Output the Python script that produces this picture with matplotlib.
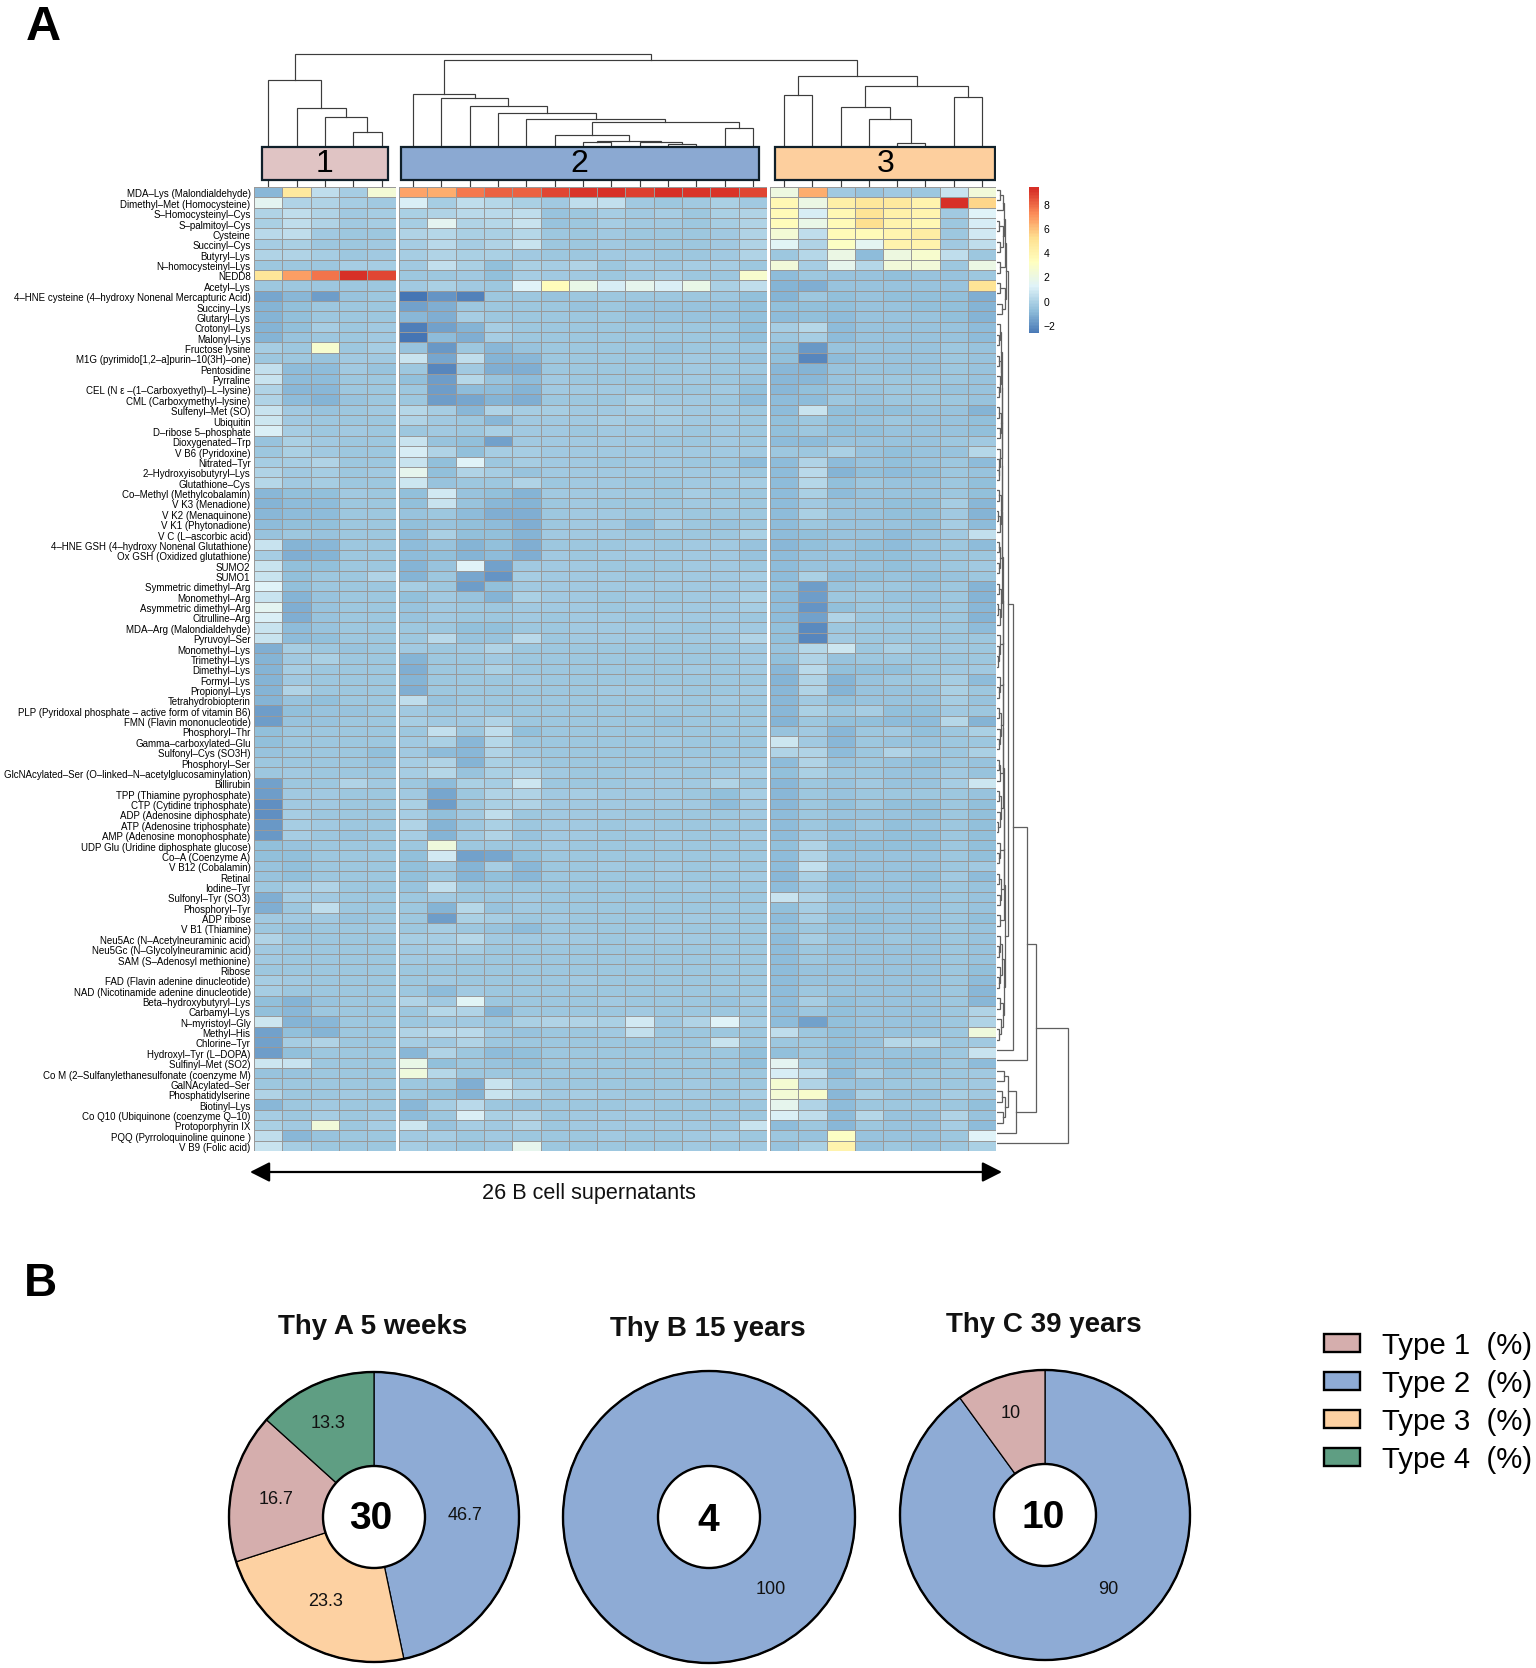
import numpy as np
import matplotlib
matplotlib.use('Agg')
import matplotlib.pyplot as plt
from matplotlib.colors import LinearSegmentedColormap, ListedColormap
from matplotlib.patches import Circle, Patch, Rectangle
from matplotlib.transforms import ScaledTranslation

plt.rcParams['font.family'] = ['Liberation Sans', 'DejaVu Sans']

W, H = 1536, 1668

row_labels = [
    'MDA–Lys (Malondialdehyde)', 'Dimethyl–Met (Homocysteine)', 'S–Homocysteinyl–Cys', 'S–palmitoyl–Cys',
    'Cysteine', 'Succinyl–Cys', 'Butyryl–Lys', 'N–homocysteinyl–Lys', 'NEDD8', 'Acetyl–Lys',
    '4–HNE cysteine (4–hydroxy Nonenal Mercapturic Acid)', 'Succiny–Lys', 'Glutaryl–Lys', 'Crotonyl–Lys',
    'Malonyl–Lys', 'Fructose lysine', 'M1G (pyrimido[1,2–a]purin–10(3H)–one)', 'Pentosidine', 'Pyrraline',
    'CEL (N ε –(1–Carboxyethyl)–L–lysine)', 'CML (Carboxymethyl–lysine)', 'Sulfenyl–Met (SO)', 'Ubiquitin',
    'D–ribose 5–phosphate', 'Dioxygenated–Trp', 'V B6 (Pyridoxine)', 'Nitrated–Tyr', '2–Hydroxyisobutyryl–Lys',
    'Glutathione–Cys', 'Co–Methyl (Methylcobalamin)', 'V K3 (Menadione)', 'V K2 (Menaquinone)',
    'V K1 (Phytonadione)', 'V C (L–ascorbic acid)', '4–HNE GSH (4–hydroxy Nonenal Glutathione)',
    'Ox GSH (Oxidized glutathione)', 'SUMO2', 'SUMO1', 'Symmetric dimethyl–Arg', 'Monomethyl–Arg',
    'Asymmetric dimethyl–Arg', 'Citrulline–Arg', 'MDA–Arg (Malondialdehyde)', 'Pyruvoyl–Ser', 'Monomethyl–Lys',
    'Trimethyl–Lys', 'Dimethyl–Lys', 'Formyl–Lys', 'Propionyl–Lys', 'Tetrahydrobiopterin',
    'PLP (Pyridoxal phosphate – active form of vitamin B6)', 'FMN (Flavin mononucleotide)', 'Phosphoryl–Thr',
    'Gamma–carboxylated–Glu', 'Sulfonyl–Cys (SO3H)', 'Phosphoryl–Ser',
    'GlcNAcylated–Ser (O–linked–N–acetylglucosaminylation)', 'Billirubin', 'TPP (Thiamine pyrophosphate)',
    'CTP (Cytidine triphosphate)', 'ADP (Adenosine diphosphate)', 'ATP (Adenosine triphosphate)',
    'AMP (Adenosine monophosphate)', 'UDP Glu (Uridine diphosphate glucose)', 'Co–A (Coenzyme A)',
    'V B12 (Cobalamin)', 'Retinal', 'Iodine–Tyr', 'Sulfonyl–Tyr (SO3)', 'Phosphoryl–Tyr', 'ADP ribose',
    'V B1 (Thiamine)', 'Neu5Ac (N–Acetylneuraminic acid)', 'Neu5Gc (N–Glycolylneuraminic acid)',
    'SAM (S–Adenosyl methionine)', 'Ribose', 'FAD (Flavin adenine dinucleotide)',
    'NAD (Nicotinamide adenine dinucleotide)', 'Beta–hydroxybutyryl–Lys', 'Carbamyl–Lys', 'N–myristoyl–Gly',
    'Methyl–His', 'Chlorine–Tyr', 'Hydroxyl–Tyr (L–DOPA)', 'Sulfinyl–Met (SO2)',
    'Co M (2–Sulfanylethanesulfonate (coenzyme M)', 'GalNAcylated–Ser', 'Phosphatidylserine', 'Biotinyl–Lys',
    'Co Q10 (Ubiquinone (coenzyme Q–10)', 'Protoporphyrin IX', 'PQQ (Pyrroloquinoline quinone )',
    'V B9 (Folic acid)',
]

# values, one list per row
group1_values = [
    [-0.7,4.9,0.6,0.0,2.7],[1.7,0.2,0.3,0.0,-0.1],[0.2,0.6,0.3,-0.1,0.0],[0.1,0.6,0.3,-0.1,0.0],
    [0.5,0.6,-0.1,-0.2,-0.2],[0.0,0.1,-0.3,-0.3,-0.1],[0.3,0.2,0.0,-0.2,-0.1],[-0.2,-0.2,-0.2,0.0,0.0],
    [5.1,7.0,8.0,9.5,8.9],[-0.2,-0.3,-0.3,-0.3,-0.2],[-1.2,-0.7,-1.4,-0.4,-0.2],[-0.9,-0.5,-0.3,-0.3,-0.2],
    [-0.9,-0.5,-0.3,-0.3,-0.2],[-0.9,-0.5,0.0,-0.3,-0.1],[-0.9,-0.4,-0.2,-0.2,-0.1],[0.0,-0.3,2.9,-0.2,0.0],
    [-0.2,-0.3,-0.4,-0.1,-0.1],[0.7,-0.6,-0.6,-0.1,-0.4],[0.8,-0.6,-0.6,-0.2,-0.2],[0.2,-0.7,-0.7,-0.3,-0.3],
    [0.2,-0.6,-0.8,-0.4,-0.3],[0.9,-0.1,-0.4,-0.2,-0.1],[1.0,-0.1,-0.2,-0.2,-0.2],[1.3,0.0,-0.2,-0.1,-0.2],
    [-0.4,0.1,-0.1,-0.3,-0.2],[-0.2,0.1,-0.1,-0.3,-0.2],[0.0,0.0,0.3,-0.3,-0.2],[0.2,-0.1,0.0,-0.2,-0.1],
    [0.4,-0.1,0.0,-0.3,-0.3],[-0.7,-0.5,-0.5,-0.1,-0.2],[-0.8,-0.6,-0.6,-0.2,-0.2],[-0.7,-0.6,-0.6,-0.2,-0.3],
    [-0.6,-0.5,-0.5,-0.2,-0.2],[-0.4,-0.3,-0.4,-0.3,-0.3],[0.8,-0.8,-0.7,-0.3,-0.2],[0.0,-1.0,-0.9,-0.3,-0.2],
    [0.8,-0.5,-0.5,-0.3,-0.2],[0.8,-0.5,-0.3,-0.2,0.3],[1.5,-0.5,-0.3,-0.3,-0.2],[0.9,-0.8,-0.4,-0.3,-0.2],
    [1.7,-1.0,-0.4,-0.3,-0.2],[1.3,-1.0,-0.4,-0.2,-0.2],[0.8,-0.6,-0.4,-0.2,-0.2],[0.9,-0.6,-0.5,-0.3,-0.2],
    [-1.0,0.0,-0.2,-0.4,-0.3],[-0.9,-0.1,0.1,-0.3,-0.3],[-0.9,0.0,-0.2,-0.2,-0.3],[-0.8,-0.1,-0.2,-0.3,-0.3],
    [-0.8,0.2,-0.2,-0.3,-0.2],[-0.9,-0.4,-0.5,-0.3,-0.2],[-1.5,-0.5,-0.4,-0.4,-0.3],[-1.4,-0.4,-0.4,-0.3,-0.3],
    [-0.5,-0.3,-0.3,-0.3,-0.2],[-0.5,-0.3,-0.3,-0.2,-0.2],[-0.4,-0.3,-0.3,-0.2,-0.5],[-0.3,-0.2,-0.2,-0.3,-0.4],
    [-0.2,-0.1,-0.2,-0.2,-0.2],[-1.3,-0.3,-0.3,0.2,-0.1],[-1.5,-0.1,-0.1,-0.2,-0.2],[-1.8,-0.1,-0.1,-0.2,-0.2],
    [-1.8,0.0,-0.2,-0.3,-0.3],[-1.6,0.0,-0.1,-0.3,-0.3],[-1.6,0.0,-0.2,-0.4,-0.3],[-0.5,-0.4,-0.2,-0.2,-0.2],
    [-0.5,-0.5,-0.3,-0.3,-0.2],[-0.4,-0.5,-0.3,-0.3,-0.2],[-0.4,-0.5,-0.3,-0.3,-0.2],[-0.3,0.0,0.2,-0.3,-0.2],
    [-1.0,0.0,-0.1,-0.3,-0.2],[-1.0,-0.2,0.6,-0.3,-0.2],[-0.1,-0.1,-0.1,-0.4,-0.3],[-0.3,-0.4,-0.3,-0.3,-0.1],
    [0.3,-0.2,-0.3,-0.3,-0.2],[-0.1,-0.3,-0.3,-0.3,-0.2],[-0.1,-0.2,-0.3,-0.3,-0.2],[-0.3,-0.3,-0.3,-0.3,-0.2],
    [0.0,-0.1,-0.3,-0.3,-0.3],[0.0,-0.2,-0.2,-0.3,-0.3],[-0.5,-0.8,-0.4,-0.3,-0.2],[-0.5,-0.7,-0.3,-0.3,-0.2],
    [1.0,-0.8,-0.7,-0.3,-0.2],[-1.3,-0.5,-0.8,-0.3,-0.2],[-1.3,0.0,0.3,-0.3,-0.3],[-1.4,-0.5,-0.3,-0.2,-0.3],
    [1.0,0.8,-0.2,-0.3,-0.3],[-0.4,-0.4,-0.2,-0.3,-0.2],[-0.3,-0.3,-0.2,-0.3,-0.2],[0.2,-0.2,-0.3,-0.1,-0.2],
    [-0.7,-0.3,-0.1,-0.2,-0.2],[0.0,-0.2,0.0,-0.3,-0.1],[0.1,-0.1,2.6,-0.2,0.0],[0.6,-0.7,-0.4,-0.3,-0.2],
    [0.9,0.0,-0.2,-0.2,-0.2],
]

group2_values = [
    [6.9,6.7,7.9,8.4,8.3,8.9,9.3,9.4,9.1,9.4,9.3,9.3,8.9],
    [1.3,0.0,0.6,0.4,0.1,-0.1,0.6,0.7,-0.1,-0.2,-0.1,0.1,-0.1],
    [0.1,0.3,0.5,0.5,0.6,-0.4,-0.3,0.0,-0.1,0.0,-0.2,0.1,0.3],
    [0.0,1.7,0.3,0.4,0.8,-0.4,-0.2,0.0,-0.1,-0.1,-0.2,0.0,0.3],
    [0.3,0.4,0.1,0.1,0.4,-0.3,-0.3,-0.1,-0.2,-0.2,-0.2,-0.1,0.3],
    [0.0,0.5,0.0,0.2,0.8,-0.3,-0.2,-0.1,-0.2,-0.3,-0.2,-0.1,0.2],
    [0.0,0.2,0.1,0.1,-0.1,-0.3,-0.2,-0.1,-0.1,-0.2,-0.2,-0.1,0.2],
    [-0.1,0.7,0.1,-0.5,0.1,0.0,0.2,-0.2,0.0,-0.1,0.0,0.0,-0.3],
    [-0.3,-0.2,-0.1,-0.5,0.0,-0.1,-0.1,-0.2,-0.1,0.0,-0.2,-0.2,2.9],
    [-0.1,0.1,-0.1,-0.2,1.5,3.6,2.0,1.2,1.8,1.3,2.0,0.1,0.6],
    [-2.8,-1.7,-2.2,-0.3,-0.3,-0.4,-0.3,-0.3,-0.3,-0.3,-0.3,-0.3,-0.5],
    [-1.3,-1.0,-0.2,-0.3,-0.3,-0.3,-0.4,-0.3,-0.4,-0.4,-0.4,-0.4,-0.5],
    [-0.7,-1.0,0.0,-0.2,-0.3,-0.3,-0.3,-0.3,-0.4,-0.4,-0.4,-0.4,-0.5],
    [-2.3,-1.3,-0.9,0.0,-0.2,-0.3,-0.3,-0.3,-0.3,-0.3,-0.3,-0.3,-0.5],
    [-2.6,-0.6,-1.0,0.0,-0.3,-0.3,-0.3,-0.3,-0.3,-0.2,-0.3,-0.3,-0.5],
    [-0.4,-1.6,-0.2,-0.7,-0.4,-0.3,-0.3,-0.3,-0.3,-0.4,-0.3,-0.3,-0.3],
    [0.9,-1.2,0.6,-0.9,-0.7,-0.3,-0.2,-0.3,-0.2,-0.2,-0.1,-0.3,-0.4],
    [-0.3,-2.1,-0.1,-1.0,-1.0,-0.2,-0.2,-0.2,-0.2,-0.2,-0.1,-0.2,-0.3],
    [-0.5,-1.4,0.4,-0.4,-0.6,-0.1,-0.2,-0.2,-0.2,-0.1,-0.1,-0.2,-0.4],
    [-0.3,-1.5,-0.6,-0.6,-0.9,-0.1,-0.1,-0.1,-0.2,-0.2,-0.2,-0.1,-0.5],
    [-0.3,-1.5,-1.2,-0.8,-1.0,-0.2,-0.2,-0.2,0.1,-0.1,-0.1,-0.2,-0.6],
    [0.4,0.0,-0.7,0.3,0.0,0.0,-0.1,-0.1,0.0,0.0,-0.1,-0.1,-0.3],
    [0.2,-0.1,-0.3,-0.7,-0.1,-0.1,-0.1,0.0,-0.1,0.0,-0.1,-0.1,-0.2],
    [-0.2,-0.1,-0.2,0.1,-0.1,-0.1,-0.2,-0.1,-0.1,-0.1,-0.2,-0.1,-0.3],
    [0.9,-0.4,-0.5,-1.3,-0.1,-0.1,-0.1,-0.1,-0.1,-0.2,-0.2,-0.1,-0.3],
    [1.2,0.2,-0.5,0.0,0.0,-0.1,-0.1,-0.1,-0.1,-0.1,-0.1,-0.1,-0.1],
    [0.8,-0.5,1.5,-0.2,0.0,-0.1,-0.1,-0.2,-0.1,-0.1,-0.2,-0.2,-0.6],
    [1.8,-0.5,0.3,0.0,-0.4,-0.1,-0.1,-0.1,-0.1,-0.1,-0.1,-0.1,-0.3],
    [1.0,-0.4,-0.3,-0.2,0.2,-0.2,-0.1,-0.1,-0.2,-0.2,-0.1,-0.1,0.0],
    [-0.5,1.1,-0.4,-0.5,-0.8,-0.1,-0.1,-0.1,-0.1,-0.3,0.0,-0.2,-0.2],
    [-0.5,0.9,-0.4,-0.7,-0.9,-0.2,-0.1,-0.2,-0.2,-0.2,-0.1,-0.1,-0.2],
    [-0.4,-0.3,-0.6,-1.0,-1.0,-0.2,-0.1,-0.1,-0.3,-0.1,-0.2,-0.2,-0.2],
    [-0.5,-0.4,-0.5,-0.6,-1.0,-0.2,-0.1,-0.1,-0.6,0.0,-0.3,-0.4,-0.3],
    [-0.6,0.1,-0.5,-0.5,-0.8,-0.1,-0.1,-0.1,-0.2,-0.2,-0.2,-0.3,0.1],
    [-0.6,-0.4,-0.8,-0.5,-1.0,-0.2,-0.2,-0.2,-0.1,-0.3,-0.1,-0.1,-0.4],
    [-0.6,-0.5,-0.8,-0.6,-1.0,-0.1,-0.2,-0.1,-0.1,-0.1,-0.1,-0.1,-0.4],
    [-0.8,-0.4,1.5,-1.3,-0.1,-0.1,-0.1,-0.2,-0.2,-0.2,-0.1,-0.1,-0.3],
    [-0.8,-0.3,-1.2,-1.7,0.0,-0.1,-0.1,-0.1,-0.2,-0.1,-0.1,-0.1,0.0],
    [0.0,-0.3,-1.4,-0.5,-0.1,-0.1,-0.1,-0.1,-0.1,-0.1,-0.1,-0.1,-0.1],
    [-0.5,-0.1,-0.4,-0.9,0.1,-0.1,-0.1,-0.2,-0.1,-0.2,-0.1,-0.1,0.1],
    [-0.4,-0.1,-0.3,-0.2,-0.1,-0.1,-0.1,-0.2,-0.1,-0.1,-0.1,-0.1,0.0],
    [-0.4,-0.1,-0.3,-0.2,-0.1,-0.2,-0.1,-0.1,-0.2,-0.1,-0.1,-0.1,-0.2],
    [-0.3,-0.2,-0.5,-0.5,-0.2,-0.2,-0.1,-0.1,-0.1,-0.1,-0.2,-0.1,-0.1],
    [-0.3,0.5,-0.4,-0.4,0.5,-0.2,-0.1,-0.1,-0.1,-0.2,-0.1,-0.1,0.2],
    [-0.1,-0.2,-0.1,0.2,-0.2,-0.2,-0.2,-0.2,-0.2,-0.2,-0.2,-0.2,-0.1],
    [-0.9,-0.2,-0.2,-0.1,-0.2,-0.2,-0.2,-0.2,-0.2,-0.2,-0.2,-0.2,-0.1],
    [-1.0,-0.2,-0.2,0.1,-0.2,-0.2,-0.2,-0.2,-0.2,-0.2,-0.1,-0.2,-0.1],
    [-0.9,-0.3,-0.2,-0.3,-0.1,-0.2,-0.2,-0.2,-0.2,-0.2,-0.2,-0.2,-0.2],
    [-1.0,-0.3,-0.3,-0.2,-0.2,-0.2,-0.2,-0.1,-0.1,-0.1,-0.3,-0.2,-0.1],
    [0.6,-0.4,-0.3,-0.3,-0.2,-0.3,-0.2,-0.2,-0.2,-0.1,-0.2,-0.1,-0.2],
    [-0.1,-0.2,-0.1,-0.2,-0.2,-0.3,-0.3,-0.2,-0.3,-0.3,-0.3,-0.2,-0.3],
    [0.0,-0.1,-0.1,0.2,-0.2,-0.2,-0.3,-0.3,-0.2,-0.4,-0.3,-0.2,-0.3],
    [-0.2,0.7,-0.3,0.6,-0.5,-0.2,-0.2,-0.2,-0.2,-0.2,-0.2,-0.2,-0.2],
    [-0.1,0.1,-0.7,0.4,-0.2,-0.2,-0.3,-0.3,-0.2,-0.1,-0.3,-0.2,-0.2],
    [-0.1,-0.6,-0.7,0.2,-0.1,-0.3,-0.2,-0.2,-0.2,-0.3,-0.2,-0.2,-0.2],
    [0.0,0.2,-0.9,0.1,0.0,-0.2,-0.2,-0.2,-0.2,-0.3,-0.1,-0.2,-0.1],
    [0.0,0.4,-0.4,0.1,0.2,-0.1,-0.2,-0.2,-0.1,-0.1,-0.2,-0.1,0.0],
    [-0.2,-0.6,0.1,0.0,1.0,-0.2,-0.2,-0.2,-0.1,-0.1,-0.1,0.3,-0.2],
    [-0.1,-1.2,-0.3,0.2,0.2,-0.1,0.0,-0.1,-0.1,-0.1,-0.3,-0.5,0.0],
    [0.1,-1.5,-0.3,0.1,0.3,-0.1,-0.1,-0.1,-0.1,-0.1,-0.1,-0.6,-0.1],
    [0.0,-0.5,-0.1,0.6,-0.3,-0.1,-0.1,-0.1,-0.2,-0.2,-0.2,-0.2,-0.1],
    [0.2,-0.8,-0.3,0.1,-0.3,-0.1,-0.1,-0.2,-0.1,-0.2,-0.2,-0.2,-0.2],
    [0.0,-0.8,-0.1,0.3,-0.4,-0.1,-0.1,-0.2,-0.2,-0.1,-0.2,-0.2,-0.1],
    [-0.3,2.4,-0.3,-0.3,-0.2,-0.1,-0.2,-0.2,-0.2,-0.2,-0.2,-0.2,-0.2],
    [-0.5,1.1,-1.3,-1.2,-0.5,-0.2,-0.2,-0.2,-0.2,-0.2,-0.2,-0.2,-0.2],
    [-0.5,-0.1,-0.8,0.0,-0.7,-0.2,-0.2,-0.1,-0.2,-0.1,-0.2,-0.1,-0.2],
    [-0.5,-0.2,-0.8,-0.5,-0.7,-0.3,-0.3,-0.2,-0.2,-0.1,-0.2,-0.2,-0.1],
    [-0.4,0.7,-0.3,-0.3,-0.3,-0.2,-0.2,-0.2,-0.2,-0.2,-0.1,-0.2,-0.3],
    [-0.3,-0.1,-0.3,-0.3,-0.1,-0.3,-0.3,-0.3,-0.3,-0.3,-0.2,-0.3,-0.3],
    [-0.2,-0.8,0.4,-0.4,-0.1,-0.2,-0.2,-0.2,-0.2,-0.2,-0.2,-0.2,-0.2],
    [-0.2,-1.5,0.1,0.0,-0.2,-0.1,-0.2,-0.2,-0.2,-0.2,-0.1,-0.2,-0.2],
    [-0.2,0.0,-0.2,-0.4,-0.6,-0.2,-0.2,-0.2,-0.2,-0.1,-0.2,-0.2,-0.2],
    [0.0,0.0,0.4,-0.1,-0.1,-0.1,-0.1,-0.2,-0.1,-0.1,-0.1,-0.2,-0.2],
    [-0.1,0.0,0.0,-0.2,-0.2,-0.2,-0.2,-0.2,-0.2,-0.2,-0.2,-0.2,-0.3],
    [-0.1,-0.1,-0.2,-0.2,-0.2,-0.2,-0.2,-0.2,-0.2,-0.2,-0.2,-0.2,-0.2],
    [-0.3,-0.2,-0.3,-0.3,-0.3,-0.2,-0.3,-0.2,-0.3,-0.3,-0.3,-0.2,-0.2],
    [-0.2,-0.1,-0.3,-0.3,-0.2,-0.2,-0.1,-0.2,-0.3,-0.2,-0.2,-0.3,-0.3],
    [-0.3,-0.6,-0.1,-0.2,-0.2,-0.2,-0.2,-0.2,-0.2,-0.2,-0.2,-0.2,-0.3],
    [0.3,-0.1,1.6,-0.3,-0.2,-0.2,-0.2,-0.1,-0.2,-0.3,-0.3,-0.4,-0.1],
    [-0.3,0.4,0.2,-0.9,-0.2,-0.2,-0.2,-0.2,-0.1,-0.2,-0.3,-0.3,-0.2],
    [-0.3,-0.1,-0.1,-0.3,0.1,0.2,0.3,0.1,1.1,-0.1,0.2,1.4,0.0],
    [0.3,0.5,0.5,-0.1,-0.4,-0.2,-0.2,-0.1,0.7,-0.2,-0.2,-0.2,-0.3],
    [0.0,-0.1,0.3,-0.3,-0.3,-0.2,-0.2,-0.2,-0.3,-0.2,-0.2,0.8,-0.2],
    [-0.7,0.2,-0.2,-0.6,-0.5,-0.2,-0.2,-0.2,-0.2,-0.2,-0.3,-0.3,-0.5],
    [2.0,-0.5,-0.3,-0.4,-0.5,-0.2,-0.3,-0.2,-0.2,-0.2,-0.3,-0.3,-0.5],
    [2.4,0.4,-0.2,-0.3,-0.3,-0.2,-0.2,-0.2,-0.2,-0.3,-0.3,-0.2,-0.3],
    [-0.2,-0.3,-1.0,0.9,0.0,-0.2,-0.2,-0.2,-0.2,-0.2,-0.1,-0.2,-0.2],
    [-0.2,-0.5,-0.8,0.8,0.4,-0.1,0.0,-0.1,-0.2,-0.1,-0.1,-0.2,0.0],
    [-0.7,0.0,0.5,-0.2,-0.4,-0.3,-0.2,-0.2,-0.1,-0.2,-0.2,-0.2,-0.3],
    [-0.6,-0.2,1.3,0.1,0.2,-0.2,-0.1,-0.1,-0.1,-0.2,-0.2,-0.1,-0.2],
    [1.0,-0.4,0.0,-0.1,0.2,-0.2,-0.1,-0.1,-0.1,-0.1,-0.1,-0.2,0.9],
    [-0.1,0.0,-0.3,-0.1,-0.2,-0.2,-0.2,-0.1,-0.2,-0.2,-0.1,0.0,-0.2],
    [0.0,-0.1,-0.2,-0.1,1.8,-0.3,-0.2,-0.2,-0.2,-0.2,-0.1,-0.2,-0.1],
]

group3_values = [
    [2.3,6.6,-0.1,-0.4,-0.1,-0.2,0.8,2.6],[3.9,2.2,4.5,5.0,4.8,4.2,9.4,5.7],[3.8,1.2,3.9,5.2,4.3,4.1,-0.1,1.5],
    [3.6,2.0,3.8,5.4,4.2,3.9,-0.2,1.2],[2.7,0.6,3.8,3.7,4.1,4.6,-0.2,1.1],[1.6,0.3,3.3,1.7,4.2,4.2,-0.1,0.6],
    [-0.3,0.4,2.2,-0.6,2.3,2.9,0.6,-0.3],[2.5,0.0,1.8,0.4,2.5,2.6,-0.3,2.2],[-0.6,-0.3,-0.4,-0.4,-0.5,-0.4,-0.4,-0.3],
    [-0.8,-1.0,-0.4,-0.4,-0.4,-0.4,-0.4,5.2],[-0.8,-0.2,-0.5,-0.4,-0.5,-0.5,-0.5,-1.0],[-0.5,-0.5,-0.5,-0.4,-0.4,-0.5,-0.5,-0.8],
    [-0.6,-0.5,-0.6,-0.4,-0.4,-0.4,-0.5,-0.8],[0.0,0.4,-0.6,-0.4,-0.4,-0.4,-0.4,-0.6],[-0.3,0.0,-0.6,-0.4,-0.4,-0.4,-0.4,-0.6],
    [-0.5,-1.6,-0.4,-0.4,-0.4,-0.4,-0.3,-0.4],[-0.5,-2.1,-0.6,-0.4,-0.4,-0.4,-0.3,-0.4],[-0.7,-0.8,-0.4,-0.4,-0.4,-0.4,-0.3,-0.4],
    [-0.7,-0.7,-0.4,-0.3,-0.3,-0.3,-0.3,-0.4],[-0.7,-0.5,-0.4,-0.4,-0.3,-0.3,-0.4,-0.4],[-0.6,-0.6,-0.3,-0.4,-0.3,-0.3,-0.3,-0.4],
    [-0.6,0.9,-0.5,-0.5,-0.5,-0.4,-0.4,-0.9],[-0.5,-0.3,-0.5,-0.4,-0.2,-0.4,-0.4,-0.5],[-0.5,-0.3,-0.5,-0.5,-0.4,-0.4,-0.4,-0.5],
    [-0.6,-0.6,-0.4,-0.4,-0.4,-0.4,-0.2,-0.1],[-0.3,-0.2,0.1,-0.4,-0.5,-0.4,-0.4,0.4],[-0.6,0.3,-0.6,-0.4,-0.5,-0.4,-0.3,-0.6],
    [-0.6,0.5,-0.9,-0.5,-0.6,-0.5,-0.3,-0.4],[-0.6,0.4,-0.5,-0.3,-0.4,-0.4,-0.3,-0.5],[-0.6,0.1,-0.6,-0.4,-0.4,-0.4,-0.3,-0.5],
    [-0.6,-0.1,-0.4,-0.4,-0.5,-0.5,0.0,-0.7],[-0.6,0.1,-0.4,-0.4,-0.5,-0.5,-0.1,-0.8],[-0.6,-0.2,-0.4,-0.4,-0.4,-0.5,0.0,-0.6],
    [-0.6,-0.5,-0.4,-0.4,-0.6,-0.4,-0.1,0.7],[-0.7,-0.5,-0.4,-0.5,-0.6,-0.4,-0.3,-0.6],[-0.6,-0.4,-0.4,-0.5,-0.5,-0.4,-0.3,-0.3],
    [-0.6,-0.4,-0.4,-0.4,-0.5,-0.4,-0.3,-0.1],[-0.6,0.1,-0.6,-0.5,-0.4,-0.5,-0.4,-0.3],[-0.5,-1.4,-0.4,-0.3,-0.3,-0.4,-0.3,-0.9],
    [-0.6,-1.4,-0.3,-0.3,-0.4,-0.4,-0.2,-0.8],[-0.6,-1.7,-0.5,-0.3,-0.3,-0.4,-0.3,-0.7],[-0.6,-1.3,0.3,-0.3,-0.3,-0.3,-0.3,-0.8],
    [-0.5,-1.9,-0.2,-0.3,-0.3,-0.2,-0.2,-0.6],[-0.5,-2.0,-0.1,-0.3,-0.3,-0.3,-0.2,-0.3],[-0.4,0.4,1.0,-0.2,0.1,-0.2,-0.1,-0.2],
    [-0.5,0.3,-0.4,-0.2,-0.3,-0.3,-0.3,-0.2],[-0.7,0.5,-0.5,-0.5,-0.5,-0.2,-0.1,-0.1],[-0.8,0.3,-0.8,-0.4,-0.3,-0.3,0.0,-0.6],
    [-0.7,0.3,-0.9,-0.4,-0.4,-0.4,0.1,-0.3],[-0.7,-0.1,-0.5,-0.4,-0.4,-0.4,0.0,-0.4],[-0.7,0.1,-0.2,0.0,-0.5,-0.5,-0.1,-0.3],
    [-0.8,-0.2,-0.5,-0.5,-0.6,-0.6,0.4,-0.9],[-0.4,-0.1,-0.7,-0.3,-0.1,-0.5,-0.2,0.1],[1.0,-0.1,-0.7,-0.3,-0.4,-0.4,-0.2,-0.2],
    [0.2,0.2,-0.6,-0.3,0.2,-0.1,-0.2,0.1],[-0.6,0.2,-0.4,-0.3,-0.4,-0.5,-0.3,-0.4],[-0.5,0.1,-0.3,-0.3,-0.4,-0.4,-0.1,-0.4],
    [-0.7,-0.3,-0.4,-0.1,-0.4,-0.4,0.0,1.0],[-0.7,-0.2,-0.4,-0.2,-0.3,-0.3,-0.2,-0.4],[-0.7,-0.2,-0.5,-0.3,-0.5,-0.5,-0.3,-0.5],
    [-0.6,-0.2,-0.4,-0.4,-0.4,-0.5,-0.3,-0.5],[-0.6,-0.2,-0.5,-0.3,-0.5,-0.4,-0.3,-0.5],[-0.6,-0.1,-0.4,-0.4,-0.5,-0.5,-0.2,-0.5],
    [-0.5,0.3,-0.5,-0.5,-0.5,-0.5,-0.3,-0.5],[-0.6,0.3,-0.4,-0.4,-0.4,-0.4,-0.3,-0.5],[-0.6,0.7,-0.4,-0.4,-0.4,-0.4,-0.3,-0.1],
    [-0.7,0.1,-0.6,-0.4,-0.4,-0.5,-0.1,-0.6],[-0.6,-0.1,-0.5,-0.4,-0.4,-0.4,-0.3,-0.4],[0.9,0.3,-0.4,-0.4,-0.4,-0.4,-0.3,-0.4],
    [-0.5,0.0,-0.4,-0.4,-0.4,-0.4,-0.2,-0.4],[-0.6,0.0,-0.5,-0.5,-0.4,-0.4,-0.3,-0.5],[-0.5,-0.2,-0.4,-0.4,-0.4,-0.4,-0.2,-0.4],
    [-0.6,0.0,-0.4,-0.4,-0.3,-0.4,-0.3,-0.4],[-0.6,-0.2,-0.4,-0.4,-0.4,-0.4,-0.3,-0.4],[-0.6,-0.2,-0.4,-0.4,-0.4,-0.4,-0.3,-0.4],
    [-0.6,-0.4,-0.4,-0.4,-0.4,-0.4,-0.2,-0.5],[-0.6,-0.4,-0.4,-0.4,-0.4,-0.4,-0.2,-0.6],[-0.6,-0.2,-0.4,-0.4,-0.4,-0.4,-0.3,-0.7],
    [-0.6,0.0,-0.5,-0.4,-0.4,-0.4,-0.3,-0.7],[-0.6,-0.3,-0.5,-0.4,-0.4,-0.4,-0.3,0.2],[-0.6,-1.3,-0.5,-0.4,-0.4,-0.4,-0.3,0.2],
    [0.6,-0.2,-0.5,-0.4,-0.4,-0.4,-0.3,2.4],[-0.3,-0.2,-0.5,-0.4,0.4,0.4,-0.3,-0.1],[-0.5,-0.2,-0.6,-0.4,-0.4,-0.4,-0.3,0.9],
    [1.7,0.0,-0.5,-0.4,-0.5,-0.5,-0.3,-0.6],[1.2,0.6,-0.6,0.0,-0.4,-0.3,-0.3,-0.1],[2.8,0.3,-0.4,-0.4,-0.3,-0.3,-0.2,-0.1],
    [2.7,3.0,-0.7,0.1,-0.4,-0.4,0.0,-0.1],[1.8,0.2,-0.6,-0.3,-0.3,-0.3,-0.2,-0.5],[1.3,0.6,-0.6,0.4,-0.4,-0.4,0.2,-0.4],
    [-0.6,-0.3,-0.7,-0.3,-0.4,-0.4,0.0,-0.6],[-0.3,-0.4,3.3,-0.4,-0.4,-0.4,-0.2,1.4],[-0.4,0.1,4.2,-0.4,-0.3,-0.4,-0.3,0.1],
]

# dendrograms as nested (height, left, right), leaves are column / row numbers
col_tree_1 = (107, 0, (79, 1, (70, 2, (55, 3, 4))))
col_tree_2 = (92.7, 5, (88.7, 6, (81, 7, (74.3, 8, (67.7, 9, (64.7,
    (52.3, 10, (46.3, (44.7, 11, 12), (44.7, 13, (42.7, 14, 15)))), (59.3, 16, 17)))))))
col_tree_3 = (111, (92, 18, 19), (100.7, (80.3, 20, (67.7, 21, (44.3, 22, 23))), (89.7, 24, 25)))
col_tree = (132.7, col_tree_1, (127, col_tree_2, col_tree_3))

row_top = (9.7, (8.5, (7.5, (6, (3, 0, 1), 2), (6.5, (2.5, 3, 4), (3, 5, 6))), (3.5, 7, 8)),
           (8, (3, 9, 10), (5.5, 11, 12)))
row_blocks = [
    (3.5, 13, (2.5, 14, 15)), (4, (2, 16, 17), (3, 18, (2, 19, 20))), (4, (2.5, 21, 22), (3, 23, 24)),
    (3.5, 25, (2.5, 26, (2, 27, 28))), (4, (2, 29, 30), (3, (1.5, 31, 32), 33)), (3.5, (2, 34, 35), (2.5, 36, 37)),
    (4, (2, 38, 39), (3, (1.5, 40, 41), 42)), (3, 43, (2, 44, (1.5, 45, 46))), (3.5, 47, (2.5, 48, 49)),
    (4, (2, 50, 51), (3, 52, (2, 53, 54))), (3, (2, 55, 56), 57), (4, (2, 58, 59), (3, 60, (1.5, 61, 62))),
    (3, 63, (2, 64, 65)), (4, (2.5, 66, 67), (3, 68, 69)), (3.5, 70, 71),
]
row_block_heights = [4.5, 5, 5.2, 5.4, 5.6, 5.8, 6, 6.2, 6.4, 6.6, 6.8, 7, 7.2, 7.6]
row_end = (7.5, (5.5, (3, 72, (2, 73, 74)), (3.5, 75, (2.5, 76, 77))),
           (6, (3, 78, 79), (4, 80, (2.5, 81, 82))))
row_tail = (19, (11.3, (7.3, 85, 86), (8, (5, 87, 88), (6.5, 89, 90))), 91)

heat_colors = ['#4575B4', '#91BFDB', '#E0F3F8', '#FFFFBF', '#FEE090', '#FC8D59', '#D73027']
box_labels = ['1', '2', '3']
box_colors = ['#E0C4C4', '#8BA9D2', '#FDCF9E']

pie_titles = ['Thy A 5 weeks', 'Thy B 15 years', 'Thy C 39 years']
pie_totals = ['30', '4', '10']
type_names = ['Type 1  (%)', 'Type 2  (%)', 'Type 3  (%)', 'Type 4  (%)']
type_colors = ['#D5AEAD', '#8EABD5', '#FDD1A2', '#5F9E83']
# clockwise from 12 o'clock
thy_a_types = [1, 2, 0, 3]
thy_a_values = [46.7, 23.3, 16.7, 13.3]
thy_b_types = [1]
thy_b_values = [100]
thy_c_types = [1, 0]
thy_c_values = [90, 10]


def px_axes(left, top, right, bottom, **kw):
    return fig.add_axes([left / W, 1 - bottom / H, (right - left) / W, (bottom - top) / H], **kw)


def draw_tree(ax, node, pos, along_x, color, lw):
    # returns position along the leaves and height of the node
    if not isinstance(node, tuple):
        return pos(node), 0
    h, a, b = node
    pa, ha = draw_tree(ax, a, pos, along_x, color, lw)
    pb, hb = draw_tree(ax, b, pos, along_x, color, lw)
    xs = [pa, pa, pb, pb]
    ys = [ha, h, h, hb]
    if along_x:
        ax.plot(xs, ys, color=color, lw=lw, solid_joinstyle='miter')
    else:
        ax.plot(ys, xs, color=color, lw=lw, solid_joinstyle='miter')
    return (pa + pb) / 2, h


fig = plt.figure(figsize=(W / 100, H / 100), dpi=100)

# panel A heatmap
ramp = LinearSegmentedColormap.from_list('ramp', heat_colors)
cmap = ListedColormap(ramp(np.linspace(0, 1, 100)))
heat_top, heat_bottom = 187, 1151
panels = [(254, 395.7, group1_values), (399, 767, group2_values), (770, 996, group3_values)]
col_centers = []
mesh = None
for k, (x0, x1, vals) in enumerate(panels):
    vals = np.array(vals)
    ax = px_axes(x0, heat_top, x1, heat_bottom)
    mesh = ax.pcolormesh(vals, cmap=cmap, vmin=-2.6, vmax=9.5, edgecolors='#999999', linewidth=0.7)
    ax.set_ylim(vals.shape[0], 0)
    ax.set_xticks([])
    for s in ax.spines.values():
        s.set_visible(False)
    if k == 0:
        ax.set_yticks(np.arange(len(row_labels)) + 0.5, row_labels, fontsize=7.0)
        ax.tick_params(axis='y', length=0, pad=2.5)
        nudge = ScaledTranslation(0, -1.3 / 100, fig.dpi_scale_trans)
        for lab in ax.get_yticklabels():
            lab.set_transform(lab.get_transform() + nudge)
    else:
        ax.set_yticks([])
    step = (x1 - x0) / vals.shape[1]
    col_centers += [x0 + step * (i + 0.5) for i in range(vals.shape[1])]

# colour key
cax = px_axes(1029, 187, 1039, 333)
cb = fig.colorbar(mesh, cax=cax, ticks=[-2, 0, 2, 4, 6, 8])
cb.outline.set_visible(False)
cb.solids.set_edgecolor('face')
cax.tick_params(length=0, labelsize=7.5, pad=3.5)

# column dendrogram and the cluster boxes on top of it
ax_col = px_axes(254, 50, 996, 187)
ax_col.set_xlim(254, 996)
ax_col.set_ylim(0, 137)
ax_col.axis('off')
draw_tree(ax_col, col_tree, lambda c: col_centers[c], True, '#3c3c3c', 0.85)
box_spans = [(262, 388), (401, 758.6), (775.4, 995)]
for (b0, b1), c, t in zip(box_spans, box_colors, box_labels):
    ax_col.add_patch(Rectangle((b0, 7.5), b1 - b0, 32.5, fc=c, ec='#10202a', lw=1.6, zorder=3))
    ax_col.text((b0 + b1) / 2, 22.5, t, ha='center', va='center', fontsize=23, zorder=4)

# row dendrogram, drawn a little higher than the rows as in the figure
n_rows = len(row_labels)
ax_row = px_axes(996.5, heat_top - 2.5, 1070, heat_bottom - 2.5)
ax_row.set_xlim(0, 73.5)
ax_row.set_ylim(n_rows, 0)
ax_row.axis('off')
chain = row_blocks[0]
for node, h in zip(row_blocks[1:], row_block_heights):
    chain = (h, chain, node)
row_rest = (8.8, chain, row_end)
row_tree = (71, (39.7, (30, (16.7, (11, row_top, row_rest), 83), 84), row_tail), 92)
draw_tree(ax_row, row_tree, lambda r: r + 0.5, False, '#5f5f5f', 0.9)

# full page layer for the letters, arrow and caption
page = px_axes(0, 0, W, H)
page.set_xlim(0, W)
page.set_ylim(H, 0)
page.axis('off')
page.patch.set_alpha(0)
page.set_zorder(5)
page.text(26, 40, 'A', fontsize=35, fontweight='bold', va='baseline')
page.text(24, 1296, 'B', fontsize=33, fontweight='bold', va='baseline')
page.annotate('', xy=(250, 1172), xytext=(1002, 1172),
              arrowprops=dict(arrowstyle='<|-|>,head_length=0.75,head_width=0.38', color='black', lw=1.6,
                              shrinkA=0, shrinkB=0, mutation_scale=16))
page.text(589, 1194, '26 B cell supernatants', fontsize=15.6, ha='center', va='center', color='#111111')

# panel B
pie_specs = [
    (374, 1517, 145, thy_a_types, thy_a_values, [(465, 1516), (326, 1602), (276, 1500), (328, 1423)], (371, 1519), 1327),
    (709, 1517, 146, thy_b_types, thy_b_values, [(771, 1590)], (708, 1521), 1329),
    (1045, 1515, 145, thy_c_types, thy_c_values, [(1108, 1590), (1011, 1414)], (1043, 1518), 1325),
]
hole_r = 51
for spec, title, total in zip(pie_specs, pie_titles, pie_totals):
    cx, cy, r, types, values, label_xy, total_xy, title_y = spec
    ax = px_axes(cx - r, cy - r, cx + r, cy + r)
    ax.pie(values, colors=[type_colors[t] for t in types], startangle=90, counterclock=False, radius=1,
           wedgeprops=dict(width=1 - hole_r / r, edgecolor='black', linewidth=0.9))
    ax.set_xlim(-1, 1)
    ax.set_ylim(-1, 1)
    ax.add_patch(Circle((0, 0), 1, fc='none', ec='black', lw=1.7, clip_on=False))
    ax.add_patch(Circle((0, 0), hole_r / r, fc='white', ec='black', lw=1.7, clip_on=False))
    for v, (lx, ly) in zip(values, label_xy):
        page.text(lx, ly, str(v), fontsize=13, ha='center', va='center', color='#111111', zorder=5)
    page.text(total_xy[0], total_xy[1], total, fontsize=28, fontweight='bold', ha='center', va='center')
    page.text(cx - 1, title_y, title, fontsize=20, fontweight='bold', ha='center', va='center', color='#111111')

handles = [Patch(fc=c, ec='black', lw=1.7) for c in type_colors]
fig.legend(handles, type_names, loc='upper left', bbox_to_anchor=(1297 / W, 1 - 1305 / H), frameon=False,
           fontsize=21.2, handlelength=1.25, handleheight=0.58, labelspacing=0.34, handletextpad=0.74)

fig.savefig('out.png', dpi=100)
